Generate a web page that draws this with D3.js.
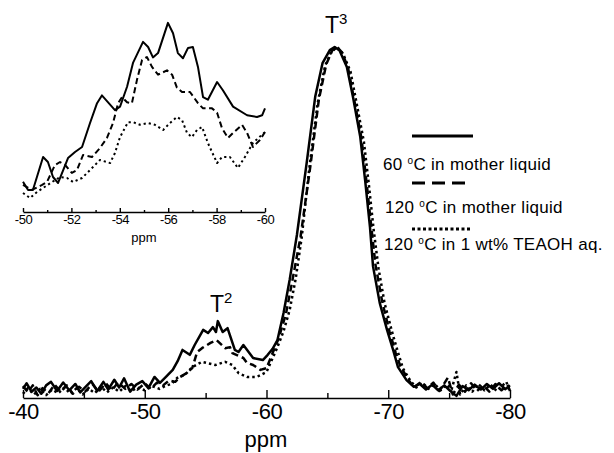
<!DOCTYPE html>
<html><head><meta charset="utf-8">
<script src="https://cdn.jsdelivr.net/npm/d3@7/dist/d3.min.js"></script>
<style>body{margin:0;background:#fff}svg{display:block}text{font-family:"Liberation Sans",Arial,sans-serif;fill:#000}</style>
</head><body><svg id="c" width="614" height="453"></svg>
<script>
// ---- main spectrum data: [ppm, relative intensity (% of T3)] ----
const solidMain = [[-40.0,2.6],[-40.3,4.2],[-40.7,1.8],[-41.1,3.0],[-41.5,1.2],[-41.9,3.6],[-42.3,4.6],[-42.8,2.0],[-43.3,4.4],[-43.8,2.2],[-44.3,4.0],[-44.7,1.6],[-45.2,3.4],[-45.6,4.8],[-46.1,2.0],[-46.6,4.6],[-47.0,2.4],[-47.5,5.2],[-47.9,3.0],[-48.3,5.6],[-48.8,1.8],[-49.3,3.8],[-49.8,4.8],[-50.3,2.8],[-50.8,6.0],[-51.25,4.3],[-51.8,6.2],[-52.3,8.0],[-52.7,10.5],[-53.1,13.7],[-53.7,12.3],[-54.1,15.1],[-54.8,19.4],[-55.2,18.5],[-55.6,20.2],[-55.85,18.8],[-56.0,21.9],[-56.4,18.8],[-56.8,19.9],[-57.4,13.7],[-57.7,13.1],[-58.1,15.1],[-58.9,11.4],[-59.7,10.8],[-60.1,12.3],[-60.5,14.0],[-60.9,16.5],[-61.4,24.2],[-61.9,33.6],[-62.5,46.5],[-63.3,67.0],[-64.0,85.8],[-64.6,95.4],[-65.2,99.1],[-65.6,100],[-66.0,99.0],[-66.6,94.3],[-67.1,85.8],[-67.7,74.4],[-68.1,62.1],[-68.5,48.7],[-68.75,37.5],[-69.3,27.1],[-69.9,19.4],[-70.4,13.7],[-70.8,8.8],[-71.5,5.1],[-72.1,3.2],[-72.6,4.0],[-73.1,2.4],[-73.6,3.8],[-74.1,2.2],[-74.6,3.6],[-75.1,2.0],[-75.6,0.6],[-76.1,3.4],[-76.6,2.2],[-77.1,3.8],[-77.6,2.4],[-78.1,4.0],[-78.6,2.6],[-79.1,4.2],[-79.6,2.5],[-80.0,3.6]];
const dashedMain = [[-40.0,3.4],[-40.4,1.6],[-40.8,3.6],[-41.2,0.8],[-41.6,2.8],[-42.1,1.4],[-42.6,3.8],[-43.1,1.8],[-43.6,3.6],[-44.1,1.2],[-44.6,3.2],[-45.1,1.8],[-45.7,4.0],[-46.2,1.8],[-46.8,4.2],[-47.3,2.2],[-47.8,4.4],[-48.4,2.6],[-48.9,4.0],[-49.4,2.4],[-50.0,4.2],[-50.5,2.6],[-51.0,4.4],[-51.5,3.6],[-52.0,5.0],[-52.5,4.6],[-52.9,6.0],[-53.4,7.0],[-53.9,8.5],[-54.3,13.1],[-54.7,14.2],[-55.4,15.7],[-55.9,16.5],[-56.6,14.2],[-57.0,14.5],[-57.2,12.8],[-58.1,11.4],[-58.4,10.0],[-58.9,9.4],[-59.5,8.0],[-60.0,8.5],[-60.5,12.8],[-61.0,17.0],[-61.6,24.0],[-62.1,33.0],[-62.8,46.0],[-63.6,66.0],[-64.3,85.0],[-64.9,95.0],[-65.4,99.0],[-65.8,100],[-66.2,98.5],[-66.7,94.0],[-67.2,85.0],[-67.8,74.0],[-68.2,62.0],[-68.6,49.0],[-68.95,38.0],[-69.5,27.5],[-70.1,19.0],[-70.6,13.0],[-71.0,9.0],[-71.6,5.5],[-72.1,3.0],[-72.7,4.6],[-73.2,2.8],[-73.7,4.4],[-74.2,2.0],[-74.9,5.8],[-75.3,1.0],[-75.8,3.8],[-76.3,1.8],[-76.8,4.2],[-77.3,2.0],[-77.8,3.6],[-78.3,1.8],[-78.8,4.0],[-79.3,2.2],[-79.8,3.8],[-80.0,2.0]];
const dottedMain = [[-40.0,1.2],[-40.4,2.8],[-40.9,1.0],[-41.4,2.6],[-41.9,0.8],[-42.4,2.4],[-42.9,1.4],[-43.4,3.0],[-43.9,1.2],[-44.4,2.8],[-44.9,1.0],[-45.4,2.6],[-45.9,1.4],[-46.4,3.2],[-46.9,1.6],[-47.4,3.0],[-47.9,1.8],[-48.4,3.4],[-48.9,2.0],[-49.4,3.0],[-50.0,2.2],[-50.6,3.4],[-51.2,2.6],[-51.8,3.6],[-52.2,4.0],[-52.65,5.7],[-53.3,6.6],[-53.9,8.8],[-54.7,10.3],[-55.8,9.4],[-56.6,10.3],[-57.2,9.4],[-57.7,7.1],[-58.4,6.0],[-59.2,6.0],[-60.0,7.4],[-60.9,14.5],[-61.4,19.0],[-61.9,25.0],[-62.4,34.0],[-62.9,46.0],[-63.5,65.0],[-64.2,84.0],[-64.8,94.5],[-65.3,98.5],[-65.8,100],[-66.3,98.0],[-66.9,93.0],[-67.4,84.0],[-68.0,73.0],[-68.4,61.0],[-68.8,48.0],[-69.2,37.0],[-69.7,27.0],[-70.3,19.0],[-70.8,13.0],[-71.2,8.5],[-71.8,5.0],[-72.3,3.0],[-72.8,4.4],[-73.3,2.6],[-73.8,4.0],[-74.3,2.2],[-74.8,3.8],[-75.2,2.4],[-75.6,7.4],[-75.9,1.0],[-76.4,3.6],[-76.9,1.8],[-77.4,4.0],[-77.9,2.2],[-78.4,3.8],[-78.9,2.0],[-79.4,3.6],[-79.7,4.6],[-80.0,1.6]];

// ---- inset (T2 region, expanded) ----
const solidInset = [[-50.0,3.5],[-50.21,2.55],[-50.41,2.55],[-50.83,6.37],[-51.03,5.79],[-51.24,4.05],[-51.45,3.36],[-51.86,6.25],[-52.15,6.95],[-52.44,7.53],[-52.77,10.3],[-53.06,12.6],[-53.26,13.5],[-53.80,11.8],[-54.01,12.2],[-54.30,14.5],[-54.55,17.3],[-54.96,19.7],[-55.17,19.1],[-55.37,17.9],[-55.58,18.4],[-55.99,21.9],[-56.20,20.7],[-56.40,18.4],[-56.61,17.8],[-56.82,19.0],[-57.02,19.1],[-57.23,16.8],[-57.44,13.3],[-57.64,13.0],[-58.02,15.05],[-58.26,14.1],[-58.68,12.2],[-59.26,11.2],[-59.67,11.0],[-59.88,11.2],[-60.0,12.0]];
const dashedInset = [[-50.0,3.13],[-50.37,2.55],[-50.79,3.13],[-50.99,3.47],[-51.32,5.44],[-51.53,5.79],[-51.74,5.44],[-52.02,4.52],[-52.23,4.86],[-52.48,6.6],[-52.85,6.37],[-53.18,7.41],[-53.47,8.57],[-53.72,10.3],[-53.93,12.6],[-54.09,13.3],[-54.30,12.7],[-54.50,12.6],[-54.71,15.3],[-54.92,17.6],[-55.12,17.95],[-55.33,16.8],[-55.58,15.9],[-55.95,16.4],[-56.16,15.9],[-56.36,14.4],[-56.57,13.9],[-56.90,13.9],[-57.23,12.6],[-57.44,12.0],[-57.81,12.0],[-58.02,11.5],[-58.22,9.73],[-58.47,8.57],[-58.68,9.15],[-59.05,10.1],[-59.26,9.15],[-59.50,7.53],[-59.79,8.34],[-60.0,9.26]];
const dottedInset = [[-50.0,2.2],[-50.29,1.62],[-50.58,2.32],[-50.83,2.78],[-51.20,3.47],[-51.53,4.05],[-51.82,3.94],[-52.07,3.47],[-52.44,3.94],[-52.77,4.86],[-53.18,6.02],[-53.60,5.67],[-53.80,6.83],[-54.01,8.68],[-54.34,10.4],[-54.55,10.4],[-54.83,10.1],[-55.17,10.3],[-55.45,10.1],[-55.79,9.5],[-56.07,10.3],[-56.36,11.0],[-56.57,10.65],[-56.78,9.15],[-56.98,8.68],[-57.19,9.5],[-57.40,9.84],[-57.64,7.99],[-58.02,5.67],[-58.22,6.37],[-58.55,6.37],[-58.88,5.1],[-59.17,6.37],[-59.50,7.99],[-60.0,9.26]];

const mainTicks = [-40,-50,-60,-70,-80];
const mainMinor = [-45,-55,-65,-75];
const insetTicks = [-50,-52,-54,-56,-58,-60];
const insetMinor = [-51,-53,-55,-57,-59];
const seriesNames = ["60 |o|C in mother liquid","120 |o|C in mother liquid","120 |o|C in 1 wt% TEAOH aq."];
const styles = [null,"7,4","2.5,3"];
const legendDash = [null,"13,7","3,2.5"];

const svg = d3.select("#c");
const x = d3.scaleLinear().domain([-40,-80]).range([23,510]);
const y = d3.scaleLinear().domain([0,100]).range([398,47]);
const xi = d3.scaleLinear().domain([-50,-60]).range([23,265]);
const yi = d3.scaleLinear().domain([0,22]).range([212,22]);

function drawAxis(g, sc, major, minor, maj, mn, fs){
  const a = d3.axisBottom(sc).tickValues(major).tickSizeInner(-maj).tickSizeOuter(0).tickPadding(fs*0.25).tickFormat(d=>String(d));
  g.call(a);
  g.select(".domain").attr("stroke","#000").attr("stroke-width",1.4);
  g.selectAll(".tick line").attr("stroke","#000").attr("stroke-width",1.4);
  g.selectAll(".tick text").attr("font-size",fs).attr("font-family",'"Liberation Sans",Arial,sans-serif').attr("fill","#000").attr("letter-spacing",-0.5);
  const m = g.append("g").call(d3.axisBottom(sc).tickValues(minor).tickSizeInner(-mn).tickSizeOuter(0).tickFormat(""));
  m.select(".domain").remove();
  m.selectAll(".tick line").attr("stroke","#000").attr("stroke-width",1.4);
}

drawAxis(svg.append("g").attr("transform","translate(0,398)"), x, mainTicks, mainMinor, 8, 5, 22);
drawAxis(svg.append("g").attr("transform","translate(0,212)"), xi, insetTicks, insetMinor, 4, 2, 13);

svg.append("text").attr("x",266).attr("y",447).attr("text-anchor","middle").attr("font-size",22).text("ppm");
svg.append("text").attr("x",144).attr("y",242).attr("text-anchor","middle").attr("font-size",13).text("ppm");

const lm = d3.line().x(d=>x(d[0])).y(d=>y(d[1]));
const li = d3.line().x(d=>xi(d[0])).y(d=>yi(d[1]));
[solidMain,dashedMain,dottedMain].forEach((s,i)=>{
  svg.append("path").attr("d",lm(s)).attr("fill","none").attr("stroke","#000").attr("stroke-width",2.5)
    .attr("stroke-linejoin","round").attr("stroke-dasharray",styles[i]);
});
[solidInset,dashedInset,dottedInset].forEach((s,i)=>{
  svg.append("path").attr("d",li(s)).attr("fill","none").attr("stroke","#000").attr("stroke-width",2)
    .attr("stroke-linejoin","round").attr("stroke-dasharray",i==1?"6,3.5":(i==2?"2.2,3":null));
});

function supText(xp, yp, parts, fs, sfs, dy, ls){
  const t = svg.append("text").attr("x",xp).attr("y",yp).attr("font-size",fs);
  if(ls) t.attr("letter-spacing",ls);
  parts.forEach((p,k)=>{
    const ts = t.append("tspan").text(p);
    if(k==1){ ts.attr("font-size",sfs).attr("dy",-dy); }
    if(k==2){ ts.attr("dy",dy); }
  });
}
supText(325,33,["T","3"],23,15,9);
supText(210,312,["T","2"],23,15,9);

// legend
const legY = [136,183,229], legX1=[412,412,412], legX2=[473,467,472];
const txtY = [170,213,250], txtX = [383,385,384];
seriesNames.forEach((n,i)=>{
  svg.append("line").attr("x1",legX1[i]).attr("x2",legX2[i]).attr("y1",legY[i]).attr("y2",legY[i])
    .attr("stroke","#000").attr("stroke-width",3).attr("stroke-dasharray",legendDash[i]);
  supText(txtX[i], txtY[i], n.split("|"), 17, 10, 6, 0.3);
});
</script></body></html>
